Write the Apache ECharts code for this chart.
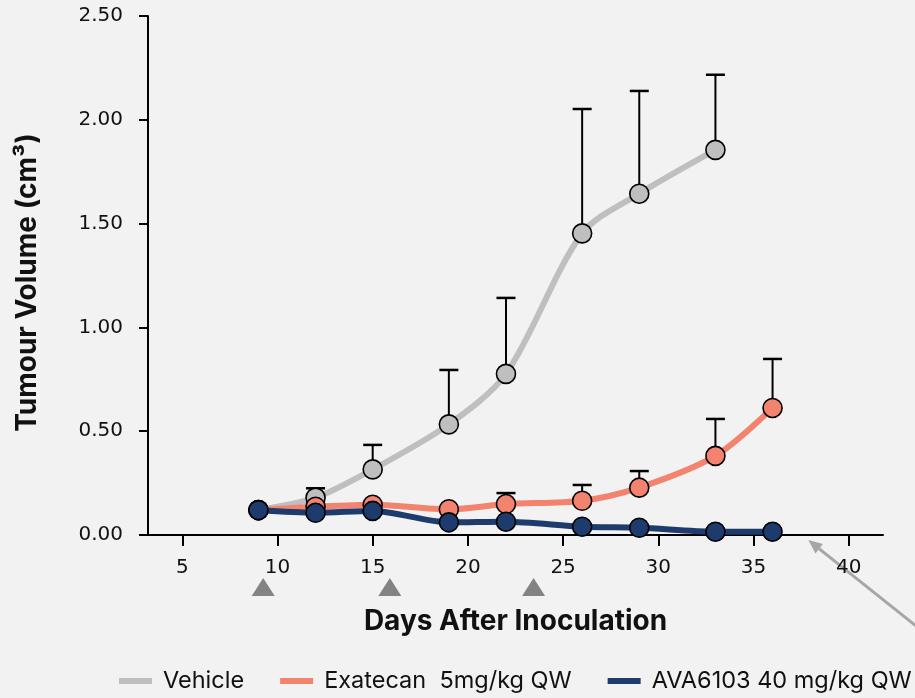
<!DOCTYPE html>
<html>
<head>
<meta charset="utf-8">
<script src="https://cdn.jsdelivr.net/npm/echarts@6/dist/echarts.min.js"></script>
<style>
html,body{margin:0;padding:0;background:#f2f2f2;}
#chart{width:915px;height:698px;}
</style>
</head>
<body>
<div id="chart"></div>
<script>
// ---- data ----
const seriesNames = ['Vehicle', 'Exatecan  5mg/kg QW', 'AVA6103 40 mg/kg QW'];
const vehicleDays = [9, 12, 15, 19, 22, 26, 29, 33];
const vehicleMean = [0.12, 0.18, 0.316, 0.533, 0.776, 1.453, 1.644, 1.855];
const vehicleErrTop = [null, 0.225, 0.434, 0.795, 1.142, 2.052, 2.139, 2.217];
const exaDays = [9, 12, 15, 19, 22, 26, 29, 33, 36];
const exaMean = [0.12, 0.136, 0.146, 0.124, 0.149, 0.165, 0.228, 0.381, 0.612];
const exaErrTop = [null, null, null, null, 0.202, 0.241, 0.308, 0.559, 0.848];
const avaDays = [9, 12, 15, 19, 22, 26, 29, 33, 36];
const avaMean = [0.12, 0.107, 0.116, 0.061, 0.064, 0.04, 0.035, 0.016, 0.016];
const dosingDays = [9.25, 15.9, 23.45];
const xTickValues = [5, 10, 15, 20, 25, 30, 35, 40];

const colors = ['#bfbfbf', '#f3836f', '#1d3b6c'];
const X_MIN = 3.2, X_MAX = 41.8;

function pairs(days, vals) { return days.map((d, i) => [d, vals[i]]); }

function errSeries(name, days, vals, tops) {
  const data = [];
  days.forEach((d, i) => { if (tops[i] != null) data.push([d, vals[i], tops[i]]); });
  return {
    type: 'custom', name: name, z: 2, silent: true,
    encode: { x: 0, y: [1, 2] },
    data: data,
    renderItem: function (params, api) {
      const p = api.coord([api.value(0), api.value(1)]);
      const t = api.coord([api.value(0), api.value(2)]);
      const hw = 9.5;
      return {
        type: 'group',
        children: [
          { type: 'line', shape: { x1: p[0], y1: p[1], x2: p[0], y2: t[1] }, style: { stroke: '#000', lineWidth: 2 } },
          { type: 'line', shape: { x1: p[0] - hw, y1: t[1], x2: p[0] + hw, y2: t[1] }, style: { stroke: '#000', lineWidth: 2.5 } }
        ]
      };
    }
  };
}

function lineSeries(idx, days, vals, z) {
  return {
    type: 'line', name: seriesNames[idx], z: z,
    data: pairs(days, vals),
    smooth: 0.3,
    symbol: 'circle', symbolSize: 19,
    lineStyle: { color: colors[idx], width: 6 },
    itemStyle: { color: colors[idx], borderColor: '#000', borderWidth: 1.6 },
    emphasis: { disabled: true }
  };
}

const chart = echarts.init(document.getElementById('chart'), null, { renderer: 'canvas' });
chart.setOption({
  backgroundColor: '#f2f2f2',
  animation: false,
  grid: [
    { left: 148, right: 32, top: 16, bottom: 163 },
    { left: 148, right: 32, top: 578, height: 18 }
  ],
  legend: {
    data: seriesNames.map(n => ({ name: n, icon: 'rect' })),
    left: 119, top: 669, padding: 0,
    itemWidth: 33, itemHeight: 6, itemGap: 36,
    itemStyle: { borderWidth: 0 },
    textStyle: { fontFamily: 'Inter', fontSize: 23.5, color: '#111', padding: [0, 0, 0, 6] }
  },
  xAxis: [{
    type: 'value', gridIndex: 0, min: X_MIN, max: X_MAX,
    name: 'Days After Inoculation', nameLocation: 'middle', nameGap: 73,
    nameTextStyle: { fontFamily: 'Inter', fontWeight: 'bold', fontSize: 28, color: '#111' },
    axisLine: { show: true, onZero: false, lineStyle: { color: '#000', width: 2 } },
    axisTick: { show: true, customValues: xTickValues, length: 11, lineStyle: { color: '#000', width: 2 } },
    axisLabel: { customValues: xTickValues, margin: 23, fontFamily: 'DejaVu Sans', fontSize: 20, color: '#111' },
    splitLine: { show: false }
  }, {
    type: 'value', gridIndex: 1, min: X_MIN, max: X_MAX, show: false
  }],
  yAxis: [{
    type: 'value', gridIndex: 0, min: 0, max: 2.5, interval: 0.5,
    name: 'Tumour Volume (cm³)', nameLocation: 'middle', nameGap: 106, nameRotate: 90,
    nameTextStyle: { fontFamily: 'Inter', fontWeight: 'bold', fontSize: 28, color: '#111', padding: [0, 14, 0, 0] },
    axisLine: { show: true, lineStyle: { color: '#000', width: 2 } },
    axisTick: { show: true, length: 9, lineStyle: { color: '#000', width: 2 } },
    axisLabel: { margin: 25, fontFamily: 'DejaVu Sans', fontSize: 20, color: '#111', formatter: v => v.toFixed(2) },
    splitLine: { show: false }
  }, {
    type: 'value', gridIndex: 1, min: 0, max: 1, show: false
  }],
  series: [
    errSeries('Vehicle err', vehicleDays, vehicleMean, vehicleErrTop),
    errSeries('Exatecan err', exaDays, exaMean, exaErrTop),
    lineSeries(0, vehicleDays, vehicleMean, 3),
    lineSeries(1, exaDays, exaMean, 4),
    lineSeries(2, avaDays, avaMean, 5),
    {
      type: 'scatter', name: 'Dosing', xAxisIndex: 1, yAxisIndex: 1, silent: true,
      symbol: 'triangle', symbolSize: [23, 18],
      itemStyle: { color: '#666666' },
      data: dosingDays.map(d => [d, 0.5])
    }
  ],
  graphic: [
    { type: 'line', silent: true, shape: { x1: 819, y1: 548.7, x2: 945, y2: 649 }, style: { stroke: '#a6a6a6', lineWidth: 3 } },
    { type: 'polygon', silent: true, shape: { points: [[808.3, 540], [815.5, 553.4], [822.9, 544]] }, style: { fill: '#a6a6a6' } }
  ]
});
</script>
</body>
</html>
